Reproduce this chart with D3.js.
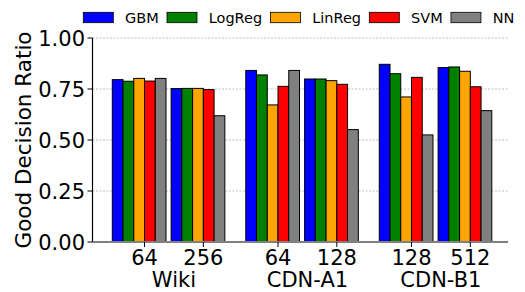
<!DOCTYPE html>
<html>
<head>
<meta charset="utf-8">
<script src="https://cdnjs.cloudflare.com/ajax/libs/d3/7.8.5/d3.min.js"></script>
<style>
  body { margin: 0; background: #fff; }
  svg { display: block; font-family: "DejaVu Sans", sans-serif; }
</style>
</head>
<body>
<div id="chart"></div>
<script>
  const models = ['GBM', 'LogReg', 'LinReg', 'SVM', 'NN']
  const colors = ['#0000ff', '#008000', '#ffa500', '#ff0000', '#808080']
  const datasets = ['Wiki', 'CDN-A1', 'CDN-B1']
  const configs = [['64', '256'], ['64', '128'], ['128', '512']]
  const yTicks = [0, 0.25, 0.5, 0.75, 1.0]

  // one value per (dataset, config) group, in order
  const gbm = [0.796, 0.752, 0.841, 0.799, 0.871, 0.855]
  const logreg = [0.788, 0.753, 0.819, 0.799, 0.825, 0.858]
  const linreg = [0.802, 0.753, 0.672, 0.791, 0.711, 0.837]
  const svm = [0.789, 0.747, 0.763, 0.773, 0.807, 0.761]
  const nn = [0.802, 0.619, 0.841, 0.551, 0.525, 0.644]
  const series = [gbm, logreg, linreg, svm, nn]

  const width = 525
  const height = 292
  const axisLeft = 92.5
  const axisRight = 508

  const svg = d3.select('#chart')
    .append('svg')
    .attr('width', width)
    .attr('height', height)

  const y = d3.scaleLinear()
    .domain([0, 1])
    .range([242, 38])

  const xData = d3.scaleBand()
    .domain(datasets)
    .range([112.3, 491.8])
    .paddingInner(0.157)
    .paddingOuter(0)

  const xConf = d3.scaleBand()
    .domain([0, 1])
    .range([0, xData.bandwidth()])
    .paddingInner(0.087)
    .paddingOuter(0)

  const xModel = d3.scaleBand()
    .domain(models)
    .range([0, xConf.bandwidth()])

  // grid
  svg.append('g')
    .selectAll('line')
    .data(yTicks.slice(1))
    .enter()
    .append('line')
      .attr('x1', axisLeft)
      .attr('x2', axisRight)
      .attr('y1', d => y(d))
      .attr('y2', d => y(d))
      .attr('stroke', '#b0b0b0')
      .attr('stroke-width', 0.8)
      .attr('stroke-dasharray', '2,1.5')

  // bars
  const rows = []
  datasets.forEach(function(ds, i) {
    configs[i].forEach(function(c, j) {
      models.forEach(function(m, k) {
        rows.push({ ds: ds, conf: j, model: m, color: colors[k], value: series[k][i * 2 + j] })
      })
    })
  })

  svg.append('g')
    .selectAll('rect')
    .data(rows)
    .enter()
    .append('rect')
      .attr('x', d => xData(d.ds) + xConf(d.conf) + xModel(d.model))
      .attr('y', d => y(d.value))
      .attr('width', xModel.bandwidth())
      .attr('height', d => y(0) - y(d.value))
      .attr('fill', d => d.color)
      .attr('stroke', '#000')
      .attr('stroke-width', 1)

  // spines
  svg.append('line')
    .attr('x1', axisLeft).attr('x2', axisLeft)
    .attr('y1', y(1)).attr('y2', y(0))
    .attr('stroke', '#000')
    .attr('stroke-width', 1.2)
  svg.append('line')
    .attr('x1', axisLeft).attr('x2', axisRight)
    .attr('y1', y(0)).attr('y2', y(0))
    .attr('stroke', '#808080')
    .attr('stroke-width', 2)

  // y ticks
  const yt = svg.append('g')
  yt.selectAll('line')
    .data(yTicks)
    .enter()
    .append('line')
      .attr('x1', axisLeft - 5)
      .attr('x2', axisLeft)
      .attr('y1', d => y(d))
      .attr('y2', d => y(d))
      .attr('stroke', '#000')
  yt.selectAll('text')
    .data(yTicks)
    .enter()
    .append('text')
      .attr('x', 85)
      .attr('y', d => y(d) + 7.6)
      .attr('text-anchor', 'end')
      .attr('font-size', 21)
      .text(d => d3.format('.2f')(d))

  // x ticks: one per config group
  const ticks = []
  datasets.forEach(function(ds, i) {
    configs[i].forEach(function(c, j) {
      ticks.push({ ds: ds, label: c, x: xData(ds) + xConf(j) + xModel('SVM') })
    })
  })
  const xt = svg.append('g')
  xt.selectAll('line')
    .data(ticks)
    .enter()
    .append('line')
      .attr('x1', d => d.x).attr('x2', d => d.x)
      .attr('y1', y(0)).attr('y2', y(0) + 5)
      .attr('stroke', '#000')
  xt.selectAll('text')
    .data(ticks)
    .enter()
    .append('text')
      .attr('x', d => d.x)
      .attr('y', 264.5)
      .attr('text-anchor', 'middle')
      .attr('font-size', 21)
      .text(d => d.label)

  // dataset labels
  svg.append('g')
    .selectAll('text')
    .data(datasets)
    .enter()
    .append('text')
      .attr('x', function(d) {
        const t = ticks.filter(k => k.ds === d)
        return (t[0].x + t[1].x) / 2
      })
      .attr('y', 286.5)
      .attr('text-anchor', 'middle')
      .attr('font-size', 21)
      .text(d => d)

  // y label
  svg.append('text')
    .attr('transform', 'translate(31,140) rotate(-90)')
    .attr('text-anchor', 'middle')
    .attr('font-size', 21.5)
    .text('Good Decision Ratio')

  // legend
  const legend = svg.append('g')
  let lx = 83.3
  models.forEach(function(m, k) {
    legend.append('rect')
      .attr('x', lx)
      .attr('y', 12.3)
      .attr('width', 30)
      .attr('height', 10.4)
      .attr('fill', colors[k])
      .attr('stroke', '#000')
      .attr('stroke-width', 0.8)
    const t = legend.append('text')
      .attr('x', lx + 41.7)
      .attr('y', 22.8)
      .attr('font-size', 14.5)
      .text(m)
    lx = lx + 41.7 + t.node().getComputedTextLength() + 8.3
  })
</script>
</body>
</html>
